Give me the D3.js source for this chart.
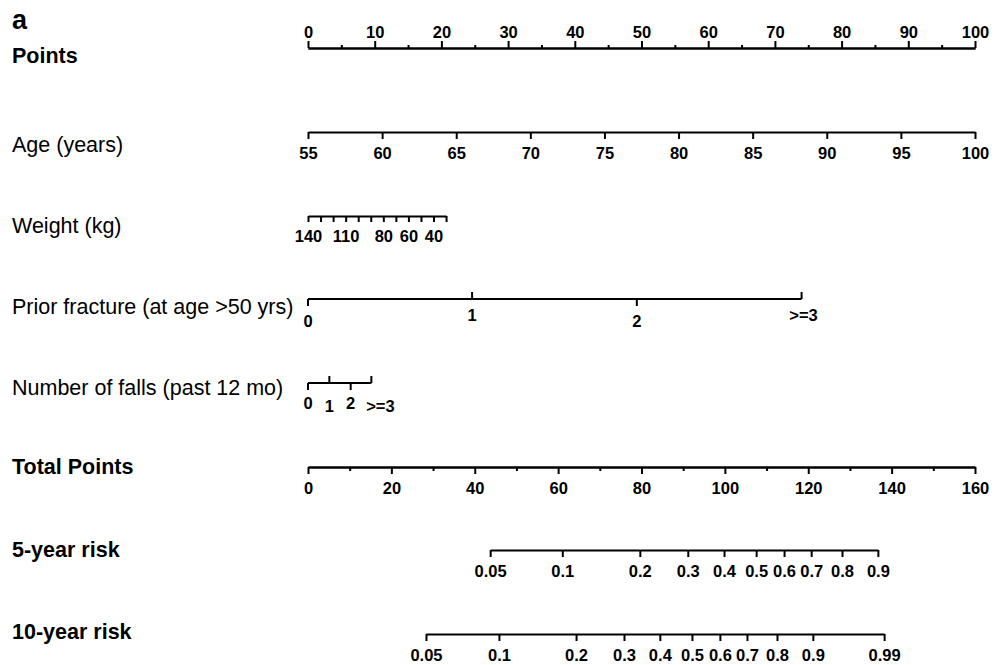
<!DOCTYPE html>
<html><head><meta charset="utf-8">
<script src="https://cdn.jsdelivr.net/npm/d3@7"></script>
<style>
body{margin:0;background:#fff;}
svg{display:block;font-family:"Liberation Sans",Arial,sans-serif;}
.domain{stroke:#000;stroke-width:2px;}
.tick line{stroke:#000;stroke-width:2px;}
.tick text{font-weight:bold;font-size:16.5px;fill:#000;}
</style></head>
<body>
<svg id="c" width="1003" height="665"></svg>
<script>
// ---- data ----
const pointsRange = [0, 100];
const pointsMajor = [0,10,20,30,40,50,60,70,80,90,100];
const pointsMinor = [5,15,25,35,45,55,65,75,85,95];

const ageDomain = [55, 100];          // maps to points 0..100
const agePoints = [0, 100];
const ageTicks = [55,60,65,70,75,80,85,90,95,100];

const weightDomain = [140, 30];       // maps to points 0..20.7
const weightPoints = [0, 20.7];
const weightTicks = [140,130,120,110,100,90,80,70,60,50,40,30];
const weightLabels = [140,110,80,60,40];

const fractureCats = ["0","1","2",">=3"];
const fracturePoints = [0, 24.6, 49.3, 74.0];

const fallsCats = ["0","1","2",">=3"];
const fallsPoints = [0, 3.2, 6.4, 9.5];

const totalRange = [0, 160];
const totalMajor = [0,20,40,60,80,100,120,140,160];
const totalMinor = [10,30,50,70,90,110,130,150];

const risk5Labels = ["0.05","0.1","0.2","0.3","0.4","0.5","0.6","0.7","0.8","0.9"];
const risk5Points = [43.7, 61.0, 79.6, 91.1, 99.8, 107.5, 114.2, 120.7, 128.1, 136.7];

const risk10Labels = ["0.05","0.1","0.2","0.3","0.4","0.5","0.6","0.7","0.8","0.9","0.99"];
const risk10Points = [28.3, 45.8, 64.3, 75.8, 84.4, 92.1, 98.8, 105.3, 112.5, 121.1, 138.2];

const rowNames = ["Points","Age (years)","Weight (kg)","Prior fracture (at age >50 yrs)",
  "Number of falls (past 12 mo)","Total Points","5-year risk","10-year risk"];
const rowBold = [true,false,false,false,false,true,true,true];

// ---- layout ----
const svg = d3.select("#c");
const X0 = 308, X1 = 975;
const px = d3.scaleLinear().domain(pointsRange).range([X0, X1]);
const tx = d3.scaleLinear().domain(totalRange).range([X0, X1]);
const rowY = [48, 132, 216, 299, 383, 467, 550, 634];
const labelY = [63, 152, 233, 314, 395, 474, 557, 639];

svg.append("text").attr("x", 12).attr("y", 29).attr("font-size", 27)
  .attr("font-weight", "bold").text("a");

svg.selectAll("text.rowlab").data(rowNames).join("text").attr("class","rowlab")
  .attr("x", 12).attr("y", (d,i)=>labelY[i])
  .attr("font-size", 21.5).attr("font-weight", (d,i)=>rowBold[i]?"bold":"normal")
  .text(d=>d);

function styleAxis(g){ g.select(".domain").attr("stroke-width",2); }

// Points axis (ticks upward)
svg.append("g").attr("transform",`translate(0,${rowY[0]})`)
  .call(d3.axisTop(px).tickValues(pointsMinor).tickSize(3).tickSizeOuter(0).tickFormat(""))
  .call(styleAxis);
svg.append("g").attr("transform",`translate(0,${rowY[0]})`)
  .call(d3.axisTop(px).tickValues(pointsMajor).tickSize(7).tickSizeOuter(0).tickPadding(3))
  .call(styleAxis);

// Age
const ageToPts = d3.scaleLinear().domain(ageDomain).range(agePoints);
const ageX = d3.scaleLinear().domain(ageDomain).range(ageDomain.map(a=>px(ageToPts(a))));
svg.append("g").attr("transform",`translate(0,${rowY[1]})`)
  .call(d3.axisBottom(ageX).tickValues(ageTicks).tickSize(7).tickSizeOuter(0).tickPadding(8))
  .call(styleAxis);

// Weight
const wToPts = d3.scaleLinear().domain(weightDomain).range(weightPoints);
const wX = d3.scaleLinear().domain(weightDomain).range(weightDomain.map(w=>px(wToPts(w))));
svg.append("g").attr("transform",`translate(0,${rowY[2]})`)
  .call(d3.axisBottom(wX).tickValues(weightTicks).tickSize(6).tickSizeOuter(0).tickPadding(8)
    .tickFormat(d=>weightLabels.includes(d)?d:""))
  .call(styleAxis);

// categorical rows with alternating ticks
function catRow(cats, pts, y, evenOff, oddOff, lastShift){
  const g = svg.append("g");
  const xs = pts.map(p=>px(p));
  g.append("line").attr("x1", d3.min(xs)).attr("x2", d3.max(xs))
    .attr("y1", y).attr("y2", y).attr("stroke","#000").attr("stroke-width",2);
  g.selectAll("line.t").data(cats).join("line").attr("class","t")
    .attr("x1",(d,i)=>xs[i]).attr("x2",(d,i)=>xs[i])
    .attr("y1", y).attr("y2",(d,i)=> i%2===0 ? y+7 : y-7)
    .attr("stroke","#000").attr("stroke-width",2);
  g.selectAll("text").data(cats).join("text")
    .attr("x",(d,i)=>xs[i] + (i===cats.length-1 ? lastShift : 0))
    .attr("y",(d,i)=> y + (i%2===0?evenOff:oddOff))
    .attr("text-anchor","middle").attr("font-weight","bold").attr("font-size",16.5)
    .text(d=>d);
}
catRow(fractureCats, fracturePoints, rowY[3], 28, 22, 2);
catRow(fallsCats, fallsPoints, rowY[4], 26, 29, 9);

// Total points
svg.append("g").attr("transform",`translate(0,${rowY[5]})`)
  .call(d3.axisBottom(tx).tickValues(totalMinor).tickSize(4).tickSizeOuter(0).tickFormat(""))
  .call(styleAxis);
svg.append("g").attr("transform",`translate(0,${rowY[5]})`)
  .call(d3.axisBottom(tx).tickValues(totalMajor).tickSize(7).tickSizeOuter(0).tickPadding(8))
  .call(styleAxis);

// Risk rows
function riskRow(labels, pts, y){
  const r = d3.scaleLinear().domain([d3.min(pts), d3.max(pts)])
    .range([tx(d3.min(pts)), tx(d3.max(pts))]);
  svg.append("g").attr("transform",`translate(0,${y})`)
    .call(d3.axisBottom(r).tickValues(pts).tickSize(7).tickSizeOuter(0).tickPadding(8)
      .tickFormat((d,i)=>labels[i]))
    .call(styleAxis);
}
riskRow(risk5Labels, risk5Points, rowY[6]);
riskRow(risk10Labels, risk10Points, rowY[7]);
</script>
</body></html>
